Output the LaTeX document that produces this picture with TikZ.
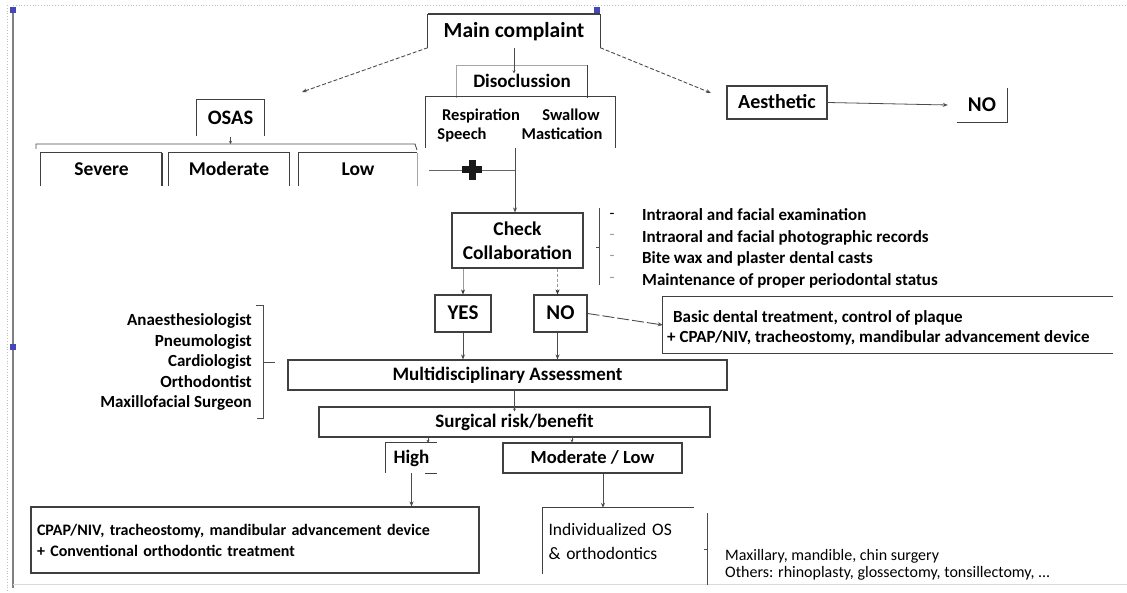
\documentclass[tikz,border=0pt]{standalone}
\usepackage{fontspec}
\setmainfont{Carlito}
\usetikzlibrary{arrows.meta}
\newcommand{\fsz}[1]{\fontsize{#1}{#1}\selectfont}
\begin{document}
\begin{tikzpicture}[x=1pt,y=-1pt,
  lbl/.style={inner sep=0pt, align=center, font=\bfseries\fsz{19}},
  bf/.style={font=\bfseries\fsz{#1}, text height={0.66*#1pt}, text depth={0.05*#1pt}},
  rm/.style={font=\fsz{#1}, text height={0.66*#1pt}, text depth={0.05*#1pt}},
  fullbox/.style={lbl, draw=black!75, line width=1.1pt},
  openbox/.style={lbl, draw=none},
  edge/.style={draw=black!75, line width=1.1pt},
  lightedge/.style={draw=black!35, line width=1pt},
  arr/.style={draw=black!70, line width=0.8pt, -{Stealth[length=5pt,width=4pt]}},
  garr/.style={draw=black!40, line width=0.8pt, -{Stealth[length=5pt,width=4pt,color=black!80]}},
  darr/.style={draw=black!70, line width=0.9pt, dash pattern=on 4pt off 2pt, -{Stealth[length=5pt,width=4pt]}},
  brk/.style={draw=black!70, line width=0.9pt},
  plain/.style={inner sep=0pt, font=\fsz{16}},
]
\useasboundingbox (0,0) rectangle (1127,593);
% selection frame of the screenshot
\draw[black!25, dotted, line width=0.8pt] (13,5) -- (1127,5);
\draw[black!25, dotted, line width=0.8pt] (7,5) -- (7,593);
\draw[black!50, line width=1.2pt] (13,8) -- (13,588);
\draw[black!15, line width=0.8pt] (13,584) -- (1127,584);
\fill[blue!45!gray] (10,7) rectangle (16,13);
\fill[blue!45!gray] (594,7) rectangle (600,13);
\fill[blue!45!gray] (10,344) rectangle (16,350);

% ---- top level
\node[openbox, bf=21.5, minimum width=172, minimum height=33] (main) at (514,31) {Main complaint};
\draw[edge] (main.south west) -- (main.north west) -- (main.north east) -- (main.south east);
\draw[edge, line width=1.6pt] (main.north west) -- (main.north east);

\node[openbox, bf=19, minimum width=130, minimum height=32] (disc) at (522,81.5) {Disoclussion};
\draw[lightedge] (disc.south west) -- (disc.north west) -- (disc.north east);
\draw[edge] (disc.north east) -- (disc.south east);

\node[openbox, minimum width=189, minimum height=51] (resp) at (520.5,122.5) {};
\draw[edge] (resp.south west) -- (resp.north west) -- (resp.north east) -- (resp.south east);
\node[lbl, bf=16.5] (tresp) at (481,115) {Respiration};
\node[lbl, bf=16.5] (tswal) at (571,115) {Swallow};
\node[lbl, bf=16.5] (tspee) at (462,134) {Speech};
\node[lbl, bf=16.5] (tmast) at (562,134) {Mastication};

% ---- OSAS
\node[openbox, bf=20.5, minimum width=67, minimum height=36] (osas) at (230.5,118) {OSAS};
\draw[edge] (osas.south west) -- (osas.north west) -- (osas.north east) -- (osas.south east);
\coordinate (bL) at (36,149);
\coordinate (bR) at (417,150);
\draw[brk] (bL) -- (36,144) -- (415,144) -- (bR);
\draw[arr, -{Stealth[length=3pt,width=3pt]}] ([yshift=-1pt]osas.south) -- (osas.south |- 0,144);

\node[openbox, bf=19.5, minimum width=121, minimum height=33] (severe) at (101.5,169.5) {Severe};
\draw[edge] (severe.south west) -- (severe.north west) -- (severe.north east);
\draw[edge, line width=1.8pt] (severe.north east) -- (severe.south east);
\node[openbox, bf=19.5, minimum width=120, minimum height=33] (moder) at (229,169.5) {Moderate};
\draw[edge] (moder.south west) -- (moder.north west) -- (moder.north east) -- (moder.south east);
\node[openbox, bf=19.5, minimum width=118, minimum height=33] (low) at (358,169.5) {Low};
\draw[edge] (low.south west) -- (low.north west) -- (low.north east);
\draw[lightedge] (low.north east) -- (low.south east);

% ---- plus junction
\coordinate (j) at (515,170);
\coordinate (plusL) at (429,170);
\node[inner sep=0pt, minimum size=20] (plus) at (472,170) {};
\draw[black!60, line width=0.8pt] (plusL) -- (plus.west);
\draw[black!60, line width=0.8pt] (plus.east) -- (j);
\fill[black!90] ([xshift=-10pt,yshift=-3.5pt]plus.center) rectangle ([xshift=10pt,yshift=3.5pt]plus.center);
\fill[black!90] ([xshift=-3.5pt,yshift=-10pt]plus.center) rectangle ([xshift=3.5pt,yshift=10pt]plus.center);
\draw[black!70, line width=0.9pt] (resp.south -| j) -- (j);

% ---- Aesthetic
\node[fullbox, bf=20, minimum width=100, minimum height=33] (aes) at (777,102.5) {Aesthetic};
\node[openbox, bf=21, minimum width=50, minimum height=34] (no1) at (982,105) {NO};
\draw[edge] (no1.south west) -- (no1.south east) -- (no1.north east);
\draw[arr] (aes.east) -- ([xshift=-9pt]no1.west);

\coordinate (osasin) at (302,92);
\coordinate (aesin) at (711,93);
\draw[darr] (main.south west) -- (osasin);
\draw[darr] (main.south east) -- (aesin);
\draw[arr, -{Stealth[length=3pt,width=3pt]}] (main.south) -- ([yshift=-8pt]main.south |- disc.north);

% ---- Check collaboration
\node[fullbox, minimum width=131, minimum height=55, font=\bfseries\fontsize{19.5}{24}\selectfont] (check) at (517.5,240.5) {Check\\Collaboration};
\draw[arr] (j) -- (check.north -| j);
\coordinate (cbT) at (599,208);
\coordinate (cbB) at (599,285);
\draw[brk] (cbT) -- (cbB);
\draw[brk] (596,247) -- (599,247);
\node[plain] (d1) at (612,216) {-};
\node[plain, text=black!40] (d2) at (612,237) {-};
\node[plain, text=black!40] (d3) at (612,258) {-};
\node[plain, text=black!40] (d4) at (612,280) {-};
\node[plain, bf=17, anchor=west] (i1) at (642,215) {Intraoral and facial examination};
\node[plain, bf=17, anchor=west] (i2) at (642,237) {Intraoral and facial photographic records};
\node[plain, bf=17, anchor=west] (i3) at (642,258) {Bite wax and plaster dental casts};
\node[plain, bf=17, anchor=west] (i4) at (642,280) {Maintenance of proper periodontal status};

\node[fullbox, bf=21, minimum width=56, minimum height=37] (yes) at (463,313.5) {YES};
\node[fullbox, bf=21, minimum width=53, minimum height=37] (no2) at (560.5,313.5) {NO};
\draw[garr] (yes.north |- check.south) -- (yes.north);
\draw[garr, dash pattern=on 3pt off 2pt] ([xshift=-3pt]no2.north |- check.south) -- ([xshift=-3pt]no2.north);

\node[openbox, minimum width=450, minimum height=56] (basic) at (888,325) {};
\draw[edge] (basic.north east) -- (basic.north west) -- (basic.south west) -- (basic.south east);
\node[plain, bf=17, anchor=west] (b1) at (673,317) {Basic dental treatment, control of plaque};
\node[plain, bf=17, anchor=west] (b2) at (667,337) {+ CPAP/NIV, tracheostomy, mandibular advancement device};
\draw[darr, dash pattern=on 12pt off 3pt] (no2.east) -- (basic.west);

% ---- Multidisciplinary
\node[fullbox, bf=19, minimum width=439, minimum height=30] (multi) at (507.5,375) {Multidisciplinary Assessment};
\draw[arr] (yes.south) -- (yes.south |- multi.north);
\draw[arr] ([xshift=-3pt]no2.south) -- ([xshift=-3pt]no2.south |- multi.north);

\node[plain, align=right, anchor=east, font=\bfseries\fontsize{17}{20.5}\selectfont] (spec) at (252,362) {Anaesthesiologist\\Pneumologist\\Cardiologist\\Orthodontist\\Maxillofacial Surgeon};
\draw[brk] (256,305) -- (263,305) -- (263,418) -- (257,418);
\draw[brk] (263,362) -- (275,362);

\node[fullbox, bf=19, minimum width=391, minimum height=30] (surg) at (514.5,422) {Surgical risk/benefit};
\draw[arr, -{Stealth[length=3pt,width=3pt]}] (multi.south -| surg.north) -- ([yshift=-5pt]surg.north);

\node[openbox, bf=19, minimum width=51, minimum height=30] (high) at (411.5,458) {High};
\draw[edge] (high.south west) -- (high.north west) -- (high.north east);
\draw[edge] ([xshift=-12pt]high.south east) -- (high.south east);
\node[fullbox, bf=18.5, minimum width=179, minimum height=30] (modlow) at (592.5,458) {Moderate / Low};
\draw[edge, line width=1.8pt] (modlow.north west) -- (modlow.north east);
\draw[arr, -{Stealth[length=3pt,width=3pt]}] (surg.south -| 428,0) -- (high.north -| 428,0);
\draw[arr, -{Stealth[length=3pt,width=3pt]}] (surg.south -| 572,0) -- (modlow.north -| 572,0);

% ---- bottom
\node[fullbox, minimum width=448, minimum height=66, align=left, font=\bfseries\fontsize{16}{21}\selectfont, text width=436] (cpap) at (255,540) {CPAP/NIV, tracheostomy, mandibular advancement device\\+ Conventional orthodontic treatment};
\node[openbox, minimum width=151, minimum height=66, align=left, font=\fontsize{17.5}{24}\selectfont, text width=140] (indiv) at (618.5,541) {Individualized OS\\\& orthodontics};
\draw[edge] (indiv.south west) -- (indiv.north west) -- (indiv.north east);
\draw[arr] (high.south) -- (high.south |- cpap.north);
\draw[arr] ([xshift=10.5pt]modlow.south) -- ([xshift=10.5pt]modlow.south |- indiv.north);

\draw[brk] (707,513) -- (707,585);
\draw[brk] (704,549) -- (707,549);
\node[plain, rm=16, anchor=west] (m1) at (725,556) {Maxillary, mandible, chin surgery};
\node[plain, rm=16, anchor=west] (m2) at (725,573) {Others: rhinoplasty, glossectomy, tonsillectomy, ...};
\end{tikzpicture}
\end{document}
